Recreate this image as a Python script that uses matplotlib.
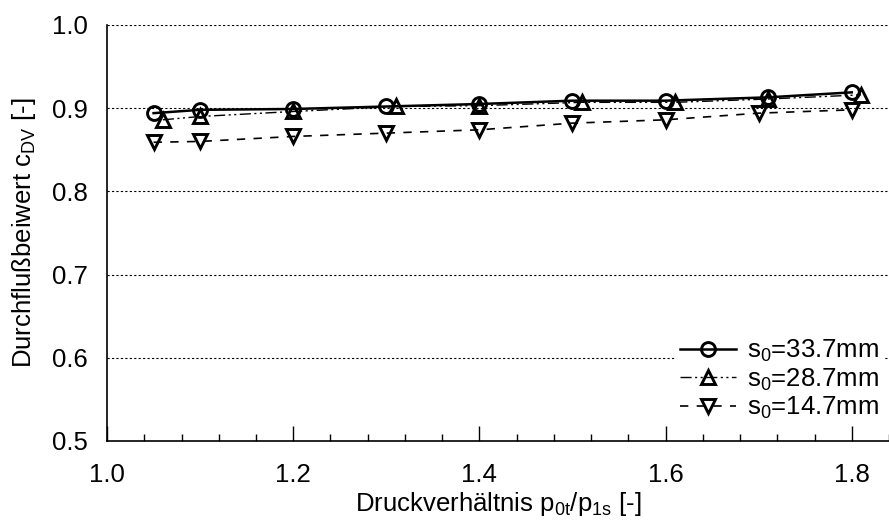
import matplotlib
matplotlib.use("Agg")
import matplotlib.pyplot as plt
from matplotlib.ticker import MultipleLocator

plt.rcParams['font.family'] = ['Liberation Sans', 'DejaVu Sans']
plt.rcParams['mathtext.fontset'] = 'custom'
plt.rcParams['mathtext.rm'] = 'Liberation Sans'
plt.rcParams['mathtext.it'] = 'Liberation Sans'

# Messwerte: Druckverhältnis und Durchflußbeiwert für drei Spaltweiten
x_337 = [1.05, 1.10, 1.20, 1.30, 1.40, 1.50, 1.60, 1.71, 1.80]
c_337 = [0.894, 0.898, 0.899, 0.902, 0.905, 0.909, 0.909, 0.913, 0.919]

x_287 = [1.06, 1.10, 1.20, 1.31, 1.40, 1.51, 1.61, 1.71, 1.81]
c_287 = [0.886, 0.890, 0.896, 0.902, 0.903, 0.907, 0.907, 0.911, 0.916]

x_147 = [1.05, 1.10, 1.20, 1.30, 1.40, 1.50, 1.60, 1.70, 1.80]
c_147 = [0.859, 0.860, 0.866, 0.870, 0.874, 0.882, 0.886, 0.894, 0.898]

labels = [r's$_\mathregular{0}$=33.7mm', r's$_\mathregular{0}$=28.7mm', r's$_\mathregular{0}$=14.7mm']
xticks = [1.0, 1.2, 1.4, 1.6, 1.8]
yticks = [0.5, 0.6, 0.7, 0.8, 0.9, 1.0]

fig = plt.figure(figsize=(8.89, 5.2), dpi=100)
ax = fig.add_axes([0.1204, 0.152, 0.8796, 0.800])

for y in yticks[1:]:
    ax.axhline(y, color='black', lw=0.8, ls=(0, (2, 2)), zorder=1)

mk = dict(ms=10, mew=2.1, mfc='none', mec='black', color='black')
ax.plot(x_337, c_337, marker='o', ls='-', lw=1.8, label=labels[0], zorder=3, **mk)
ax.plot(x_287, c_287, marker='^', ls=(0, (8, 2.5, 1.5, 2.5, 1.5, 2.5)), lw=1.0,
        label=labels[1], zorder=3, **mk)
ax.plot(x_147, c_147, marker='v', ls=(0, (5, 5)), lw=1.2, label=labels[2], zorder=3, **mk)

ax.set_xlim(1.0, 1.84)
ax.set_ylim(0.5, 1.0)
ax.set_xticks(xticks)
ax.set_xticklabels([f'{v:.1f}' for v in xticks])
ax.xaxis.set_minor_locator(MultipleLocator(0.04))
ax.set_yticks(yticks)
ax.set_yticklabels([f'{v:.1f}' for v in yticks])

ax.tick_params(axis='x', which='major', direction='in', length=11, width=1.0,
               labelsize=18.5, pad=16)
ax.tick_params(axis='x', which='minor', direction='in', length=5, width=1.0)
ax.tick_params(axis='y', length=0, labelsize=18.5, pad=14)

for side in ['top', 'right']:
    ax.spines[side].set_visible(False)
ax.spines['left'].set_linewidth(1.2)
ax.spines['bottom'].set_linewidth(1.2)

ax.set_xlabel(r'Druckverhältnis p$_\mathregular{0t}$/p$_\mathregular{1s}$ [-]', fontsize=18.5, labelpad=2)
ax.set_ylabel(r'Durchflußbeiwert c$_\mathregular{DV}$ [-]', fontsize=18.5, labelpad=10)

leg = ax.legend(loc='lower right', bbox_to_anchor=(1.01, 0.004), frameon=True, fontsize=18.5,
                handlelength=2.2, handletextpad=0.4, labelspacing=0.1,
                borderpad=0.2, fancybox=False)
leg.get_frame().set_edgecolor('none')
leg.get_frame().set_facecolor('white')
leg.get_frame().set_alpha(1.0)

fig.savefig('out.png', dpi=100)
